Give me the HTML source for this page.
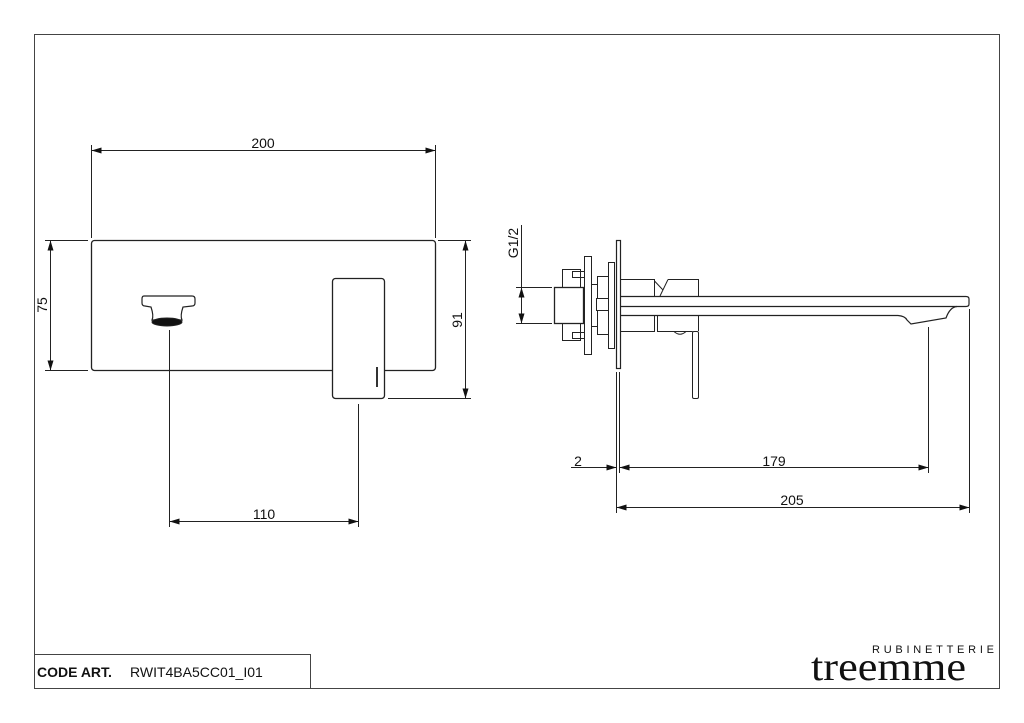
<!DOCTYPE html>
<html><head><meta charset="utf-8"><style>
html,body{margin:0;padding:0;background:#fff;width:1024px;height:723px;overflow:hidden}
svg{display:block}
text{font-family:"Liberation Sans",sans-serif;fill:#111}
</style></head><body>
<svg width="1024" height="723" viewBox="0 0 1024 723" xmlns="http://www.w3.org/2000/svg">
<defs>
<marker id="a" viewBox="0 0 10 6" refX="10" refY="3" markerWidth="10" markerHeight="6" orient="auto-start-reverse" markerUnits="userSpaceOnUse"><path d="M0,0 L10,3 L0,6 z" fill="#111"/></marker>
</defs>
<g fill="none" stroke="#222" stroke-width="1">
<rect x="34.5" y="34.5" width="965" height="654" stroke="#444"/>
<rect x="34.5" y="654.5" width="276" height="34" stroke="#444"/>

<rect x="91.5" y="240.5" width="344" height="130" rx="3" stroke-width="1.3"/>
<rect x="332.5" y="278.5" width="52" height="120" rx="3" stroke-width="1.3" fill="#fff"/>
<path d="M144,296 H192 Q195,296 195,299 V303 Q195,306 192,306 L183,307 Q180,316 182,320 L152,320 Q154,316 151,307 L145,306 Q142,306 142,303 V299 Q142,296 144,296 Z" stroke-width="1.2"/>
<ellipse cx="167" cy="322" rx="15" ry="4" fill="#111"/>
<rect x="376" y="367" width="2" height="20" fill="#333" stroke="none"/>
<line x1="91.5" y1="145" x2="91.5" y2="238"/>
<line x1="435.5" y1="145" x2="435.5" y2="238"/>
<line x1="91.5" y1="150.5" x2="435.5" y2="150.5" marker-start="url(#a)" marker-end="url(#a)"/>
<line x1="45" y1="240.5" x2="88" y2="240.5"/>
<line x1="45" y1="370.5" x2="88" y2="370.5"/>
<line x1="50.5" y1="240.5" x2="50.5" y2="370.5" marker-start="url(#a)" marker-end="url(#a)"/>
<line x1="438" y1="240.5" x2="471" y2="240.5"/>
<line x1="388" y1="398.5" x2="471" y2="398.5"/>
<line x1="465.5" y1="240.5" x2="465.5" y2="398.5" marker-start="url(#a)" marker-end="url(#a)"/>
<line x1="169.5" y1="330" x2="169.5" y2="527"/>
<line x1="358.5" y1="404" x2="358.5" y2="527"/>
<line x1="169.5" y1="521.5" x2="358.5" y2="521.5" marker-start="url(#a)" marker-end="url(#a)"/>

<rect x="562.5" y="269.5" width="18" height="71"/>
<rect x="554.5" y="287.5" width="29" height="36" fill="#fff" stroke-width="1.3"/>
<rect x="572.5" y="271.5" width="12" height="6"/>
<rect x="572.5" y="332.5" width="12" height="6"/>
<rect x="584.5" y="256.5" width="7" height="98" fill="#fff"/>
<rect x="591.5" y="284.5" width="6" height="42"/>
<rect x="597.5" y="276.5" width="11" height="58"/>
<rect x="596.5" y="298.5" width="18" height="12" fill="#fff"/>
<rect x="608.5" y="262.5" width="6" height="86" fill="#fff"/>
<rect x="616.5" y="240.5" width="4" height="128" fill="#fff" stroke-width="1.2"/>
<path d="M620.5,279.5 H654.5 V296 M620.5,331.5 H654.5 V315"/>
<path d="M654.5,281 L663,290 M668,279.5 L660,296 M668,279.5 H698.5 V296"/>
<path d="M657.5,315 V331.5 H692.5 M698.5,315 V331"/>
<path d="M674,331.5 Q680,337 686,331.5"/>
<rect x="692.5" y="331.5" width="6" height="67" rx="1.5" fill="#fff"/>
<path d="M620.5,296.5 H966 Q969,296.5 969,299 V304 Q969,306.5 966,306.5 H620.5" stroke-width="1.2"/>
<path d="M620.5,315.5 H898 Q905,316 907,320 L911,324 L946,318 Q950,307 957,306.5" stroke-width="1.2"/>
<line x1="516" y1="287.5" x2="552" y2="287.5"/>
<line x1="516" y1="323.5" x2="552" y2="323.5"/>
<line x1="521.5" y1="225" x2="521.5" y2="287.5"/>
<line x1="521.5" y1="287.5" x2="521.5" y2="323.5" marker-start="url(#a)" marker-end="url(#a)"/>
<line x1="616.5" y1="372" x2="616.5" y2="513"/>
<line x1="619.5" y1="372" x2="619.5" y2="473"/>
<line x1="928.5" y1="327" x2="928.5" y2="473"/>
<line x1="969.5" y1="309" x2="969.5" y2="513"/>
<line x1="571" y1="467.5" x2="616.5" y2="467.5" marker-end="url(#a)"/>
<line x1="619.5" y1="467.5" x2="928.5" y2="467.5" marker-start="url(#a)" marker-end="url(#a)"/>
<line x1="616.5" y1="507.5" x2="969.5" y2="507.5" marker-start="url(#a)" marker-end="url(#a)"/>
</g>
<g font-size="14">
<text x="263" y="148" text-anchor="middle">200</text>
<text x="47" y="305" text-anchor="middle" transform="rotate(-90 47 305)">75</text>
<text x="462" y="320" text-anchor="middle" transform="rotate(-90 462 320)">91</text>
<text x="264" y="519" text-anchor="middle">110</text>
<text x="518" y="243" text-anchor="middle" transform="rotate(-90 518 243)">G1/2</text>
<text x="578" y="466" text-anchor="middle">2</text>
<text x="774" y="466" text-anchor="middle">179</text>
<text x="792" y="505" text-anchor="middle">205</text>
<text x="37" y="677" font-weight="bold">CODE ART.</text>
<text x="130" y="677">RWIT4BA5CC01_I01</text>
</g>
<text x="872" y="653" font-size="11" textLength="122" lengthAdjust="spacing">RUBINETTERIE</text>
<text x="811" y="680" font-size="40" style="font-family:'Liberation Serif',serif" textLength="155" lengthAdjust="spacingAndGlyphs">treemme</text>
</svg>
</body></html>
